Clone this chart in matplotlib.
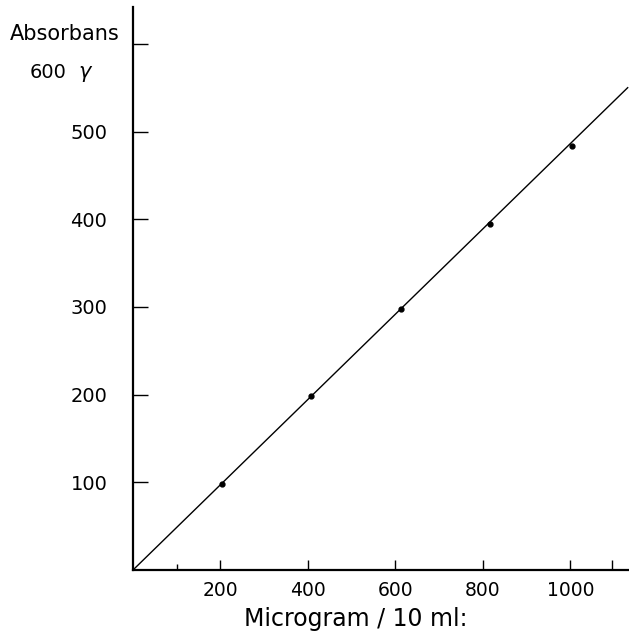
import matplotlib
matplotlib.use("Agg")
import matplotlib.pyplot as plt

# Data
conc_ug = [203, 408, 613, 816, 1003]
absorbans = [98, 198, 298, 395, 484]
line_x = [0, 1131]
line_y = [0, 550]

x_ticks = [200, 400, 600, 800, 1000]
x_ticklabels = ["200", "400", "600", "800", "1000"]
x_extra_ticks = [1095]
x_minor_ticks = [100]
y_ticks = [100, 200, 300, 400, 500, 600]
y_ticklabels = ["100", "200", "300", "400", "500", ""]

xlabel = "Microgram / 10 ml:"
ylabel = "Absorbans"
top_label = "600"
top_unit = "γ"

fig = plt.figure(figsize=(6.29, 6.40), dpi=100)
ax = fig.add_axes([133/629, 70/640, 496/629, 563/640])
ax.set_xlim(0, 1134)
ax.set_ylim(0, 642)

ax.plot(line_x, line_y, color="black", lw=1.0)
ax.plot(conc_ug, absorbans, "o", color="black", ms=3.5)

for s in ["top", "right"]:
    ax.spines[s].set_visible(False)
for s in ["left", "bottom"]:
    ax.spines[s].set_linewidth(1.6)

ax.set_xticks(x_ticks + x_extra_ticks)
ax.set_xticklabels(x_ticklabels + [""])
ax.set_xticks(x_minor_ticks, minor=True)
ax.set_yticks(y_ticks)
ax.set_yticklabels(y_ticklabels)
ax.tick_params(axis="x", which="major", direction="in", length=7, width=1.0, pad=8, labelsize=13.5)
ax.tick_params(axis="x", which="minor", direction="in", length=4, width=1.0)
ax.tick_params(axis="y", direction="in", length=11, width=1.0, pad=18.5, labelsize=14)

fig.text(356/629, 1 - 619/640, xlabel, fontsize=17, ha="center", va="center")
fig.text(10/629, 1 - 34/640, ylabel, fontsize=15, ha="left", va="center")
fig.text(30/629, 1 - 72/640, top_label, fontsize=14, ha="left", va="center")
fig.text(78/629, 1 - 72/640, top_unit, fontsize=15, ha="left", va="center", style="italic")

fig.savefig("out.png", dpi=100, facecolor="white")
